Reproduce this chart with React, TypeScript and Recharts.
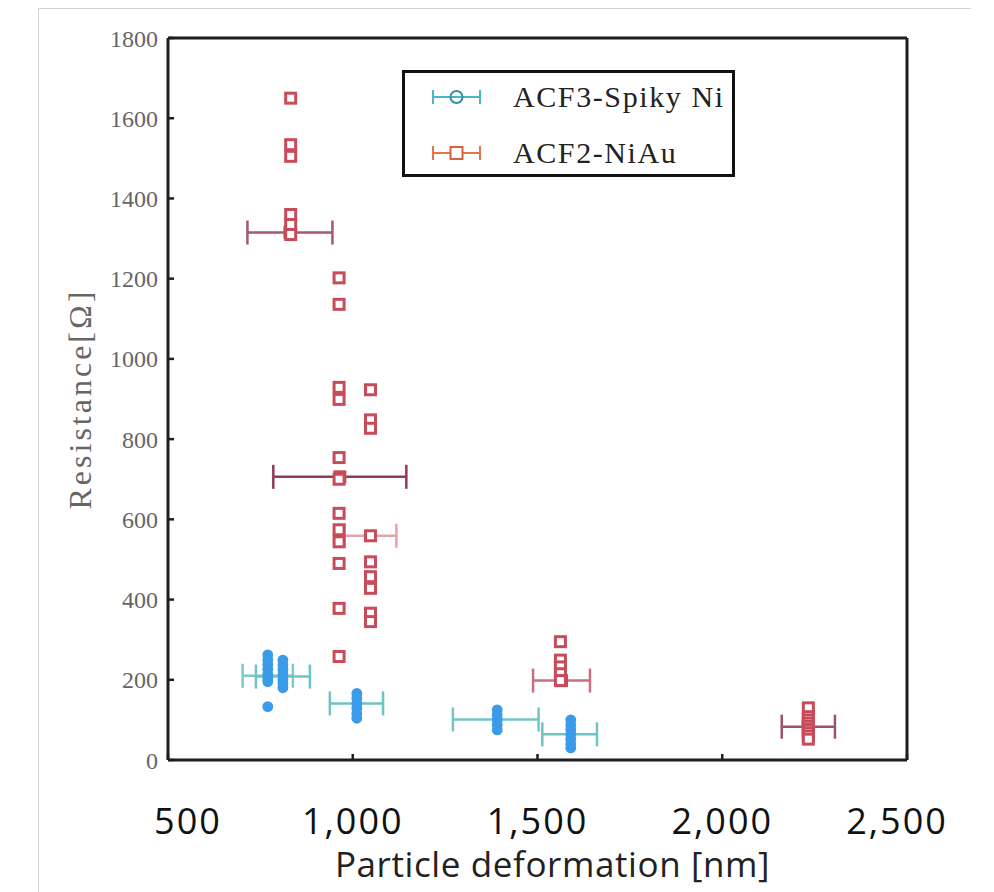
import React from 'react';
import { ScatterChart, Scatter, XAxis, YAxis, ErrorBar, Legend, Label } from 'recharts';

const xTicks = [500, 1000, 1500, 2000, 2500];
const yTicks = [0, 200, 400, 600, 800, 1000, 1200, 1400, 1600, 1800];
const seriesNames = ['ACF3-Spiky Ni', 'ACF2-NiAu'];
const xLabel = 'Particle deformation [nm]';
const yLabel = 'Resistance[Ω]';

// ACF3-Spiky Ni raw measurements, grouped by deformation column
const acf3ColumnX = [770, 811, 1011, 1391, 1590];
const acf3ColumnValues = [
  [262, 250, 238, 226, 214, 203, 195, 133],
  [249, 237, 225, 213, 200, 190, 180],
  [166, 154, 141, 129, 116, 104],
  [125, 112, 100, 88, 75],
  [100, 88, 76, 64, 52, 40, 30],
];
// ACF3 means with x error (deformation spread)
const acf3MeanX = [770, 811, 1010, 1387, 1587];
const acf3MeanY = [210, 208, 141, 101, 64];
const acf3MeanErr = [68, 73, 72, 116, 74];

// ACF2-NiAu raw measurements
const acf2ColumnX = [832, 963, 1048, 1562, 2233];
const acf2ColumnValues = [
  [1650, 1534, 1505, 1360, 1335, 1310],
  [1202, 1136, 929, 899, 754, 700, 615, 574, 544, 490, 378, 258],
  [923, 848, 827, 494, 457, 428, 366, 345],
  [295, 249, 232, 215, 198],
  [130, 108, 100, 92, 84, 76, 68, 60, 52],
];
const acf2MeanX = [830, 965, 1048, 1565, 2233];
const acf2MeanY = [1315, 706, 559, 198, 83];
const acf2MeanErr = [115, 180, 70, 77, 72];

const acf2BarColors = ['#a25a6e', '#8e3c52', '#e3a3ab', '#c96f80', '#9a5468'];
const acf3BarColors = ['#7ccaca', '#6cc4c4', '#6cc4c4', '#72c6c8', '#6cc4c4'];
const xTickShift = [20, 0, 0, 0, -10];

const flatten = (xs: number[], vals: number[][]) =>
  xs.flatMap((x, i) => vals[i].map((y) => ({ x, y })));

const acf3Points = flatten(acf3ColumnX, acf3ColumnValues);
const acf2Points = flatten(acf2ColumnX, acf2ColumnValues);
const acf3Means = acf3MeanX.map((x, i) => ({ x, y: acf3MeanY[i], xErr: acf3MeanErr[i] }));
const acf2Means = acf2MeanX.map((x, i) => ({ x, y: acf2MeanY[i], xErr: acf2MeanErr[i] }));

const RED = '#c94b5a';
const BLUE = '#3a9be8';
const AXIS = '#1e1e1e';

const BlueDot = (p: any) => <circle cx={p.cx} cy={p.cy} r={5.4} fill={BLUE} />;
const RedSquare = (p: any) => (
  <rect x={p.cx - 5} y={p.cy - 5} width={10} height={10} fill="#fff" stroke={RED} strokeWidth={3} />
);
const Empty = () => <g />;

const serif = '"Liberation Serif", "DejaVu Serif", serif';
const sans = '"Open Sans", "Noto Sans", sans-serif';

const XTick = (p: any) => {
  const i = xTicks.indexOf(p.payload.value);
  return (
    <text
      x={p.x + (xTickShift[i] || 0)}
      y={p.y}
      dy="0.71em"
      textAnchor="middle"
      fill="#111"
      fontSize={36}
      fontFamily={sans}
      letterSpacing={2}
    >
      {Number(p.payload.value).toLocaleString('en-US')}
    </text>
  );
};

const LegendBox = () => (
  <div
    style={{
      width: 333,
      height: 107,
      boxSizing: 'border-box',
      border: '3px solid #111',
      background: '#fff',
      position: 'relative',
      fontFamily: serif,
      fontSize: 30,
      letterSpacing: 1.6,
      color: '#222',
    }}
  >
    {seriesNames.map((name, i) => (
      <div
        key={name}
        style={{ position: 'absolute', left: 0, top: i === 0 ? 4 : 60, height: 40, display: 'flex', alignItems: 'center', whiteSpace: 'nowrap' }}
      >
        <svg width={54} height={20} style={{ marginLeft: 26 }}>
          {i === 0 ? (
            <g>
              <line x1={2} y1={10} x2={49} y2={10} stroke="#4fb5c5" strokeWidth={2} />
              <line x1={2} y1={3} x2={2} y2={17} stroke="#4fb5c5" strokeWidth={2} />
              <line x1={49} y1={3} x2={49} y2={17} stroke="#4fb5c5" strokeWidth={2} />
              <circle cx={25.5} cy={10} r={6} fill="none" stroke="#2f8fb0" strokeWidth={2} />
            </g>
          ) : (
            <g>
              <line x1={2} y1={10} x2={49} y2={10} stroke="#e0764e" strokeWidth={2} />
              <line x1={2} y1={3} x2={2} y2={17} stroke="#e0764e" strokeWidth={2} />
              <line x1={49} y1={3} x2={49} y2={17} stroke="#e0764e" strokeWidth={2} />
              <rect x={19.5} y={4} width={12} height={12} fill="#fff" stroke="#d8603e" strokeWidth={2} />
            </g>
          )}
        </svg>
        <span style={{ marginLeft: 28 }}>{name}</span>
      </div>
    ))}
  </div>
);

export default function App() {
  return (
    <div style={{ position: 'absolute', left: 0, top: 0, width: 994, height: 892, background: '#fff' }}>
      <div
        style={{
          position: 'absolute',
          left: 38,
          top: 8,
          width: 932,
          height: 884,
          borderTop: '1px solid #d4d4d4',
          borderLeft: '1px solid #d4d4d4',
        }}
      />
      <div style={{ position: 'absolute', left: 0, top: 0 }}>
        <ScatterChart width={994} height={892} margin={{ top: 37, right: 86, bottom: 12, left: 108 }}>
          <XAxis
            xAxisId="b"
            type="number"
            dataKey="x"
            domain={[500, 2500]}
            ticks={xTicks}
            height={120}
            tickSize={-6}
            tickMargin={54}
            axisLine={{ stroke: AXIS, strokeWidth: 3 }}
            tickLine={{ stroke: AXIS, strokeWidth: 2.5 }}
            tick={XTick}
          >
            <Label
              value={xLabel}
              position="insideBottom"
              offset={3}
              dx={15}
              style={{ fill: '#222', fontSize: 35, fontFamily: sans, letterSpacing: 0.6 }}
            />
          </XAxis>
          <XAxis
            xAxisId="t"
            orientation="top"
            type="number"
            dataKey="x"
            domain={[500, 2500]}
            ticks={xTicks}
            height={1}
            tickSize={-6}
            tick={false}
            axisLine={{ stroke: AXIS, strokeWidth: 3 }}
            tickLine={{ stroke: AXIS, strokeWidth: 2.5 }}
          />
          <YAxis
            yAxisId="l"
            type="number"
            dataKey="y"
            domain={[0, 1800]}
            ticks={yTicks}
            width={60}
            tickSize={-6}
            tickMargin={16}
            axisLine={{ stroke: AXIS, strokeWidth: 3 }}
            tickLine={{ stroke: AXIS, strokeWidth: 2.5 }}
            tick={{ fill: '#666', fontSize: 24, fontFamily: serif }}
          >
            <Label
              value={yLabel}
              angle={-90}
              position="center"
              dx={-58}
              style={{ fill: '#666', fontSize: 32, fontFamily: serif, letterSpacing: 3 }}
            />
          </YAxis>
          <YAxis
            yAxisId="r"
            orientation="right"
            type="number"
            dataKey="y"
            domain={[0, 1800]}
            ticks={yTicks}
            width={1}
            tickSize={-6}
            tick={false}
            axisLine={{ stroke: AXIS, strokeWidth: 3 }}
            tickLine={{ stroke: AXIS, strokeWidth: 2.5 }}
          />
          <Legend
            layout="horizontal"
            verticalAlign="middle"
            align="center"
            content={() => <LegendBox />}
            wrapperStyle={{ left: 402, top: 70, width: 333, height: 107 }}
          />
          <Scatter
            xAxisId="t"
            yAxisId="r"
            data={acf2Means}
            shape={Empty}
            legendType="none"
            isAnimationActive={false}
          />
          {acf2Means.map((m, i) => (
            <Scatter
              key={'acf2m' + i}
              xAxisId="b"
              yAxisId="l"
              data={[m]}
              shape={RedSquare}
              legendType="none"
              isAnimationActive={false}
            >
              <ErrorBar dataKey="xErr" direction="x" width={12} stroke={acf2BarColors[i]} strokeWidth={2.5} />
            </Scatter>
          ))}
          {acf3Means.map((m, i) => (
            <Scatter
              key={'acf3m' + i}
              xAxisId="b"
              yAxisId="l"
              data={[m]}
              shape={Empty}
              legendType="none"
              isAnimationActive={false}
            >
              <ErrorBar dataKey="xErr" direction="x" width={12} stroke={acf3BarColors[i]} strokeWidth={2.5} />
            </Scatter>
          ))}
          <Scatter
            name={seriesNames[1]}
            xAxisId="b"
            yAxisId="l"
            data={acf2Points}
            shape={RedSquare}
            isAnimationActive={false}
          />
          <Scatter
            name={seriesNames[0]}
            xAxisId="b"
            yAxisId="l"
            data={acf3Points}
            shape={BlueDot}
            isAnimationActive={false}
          />
        </ScatterChart>
      </div>
    </div>
  );
}
